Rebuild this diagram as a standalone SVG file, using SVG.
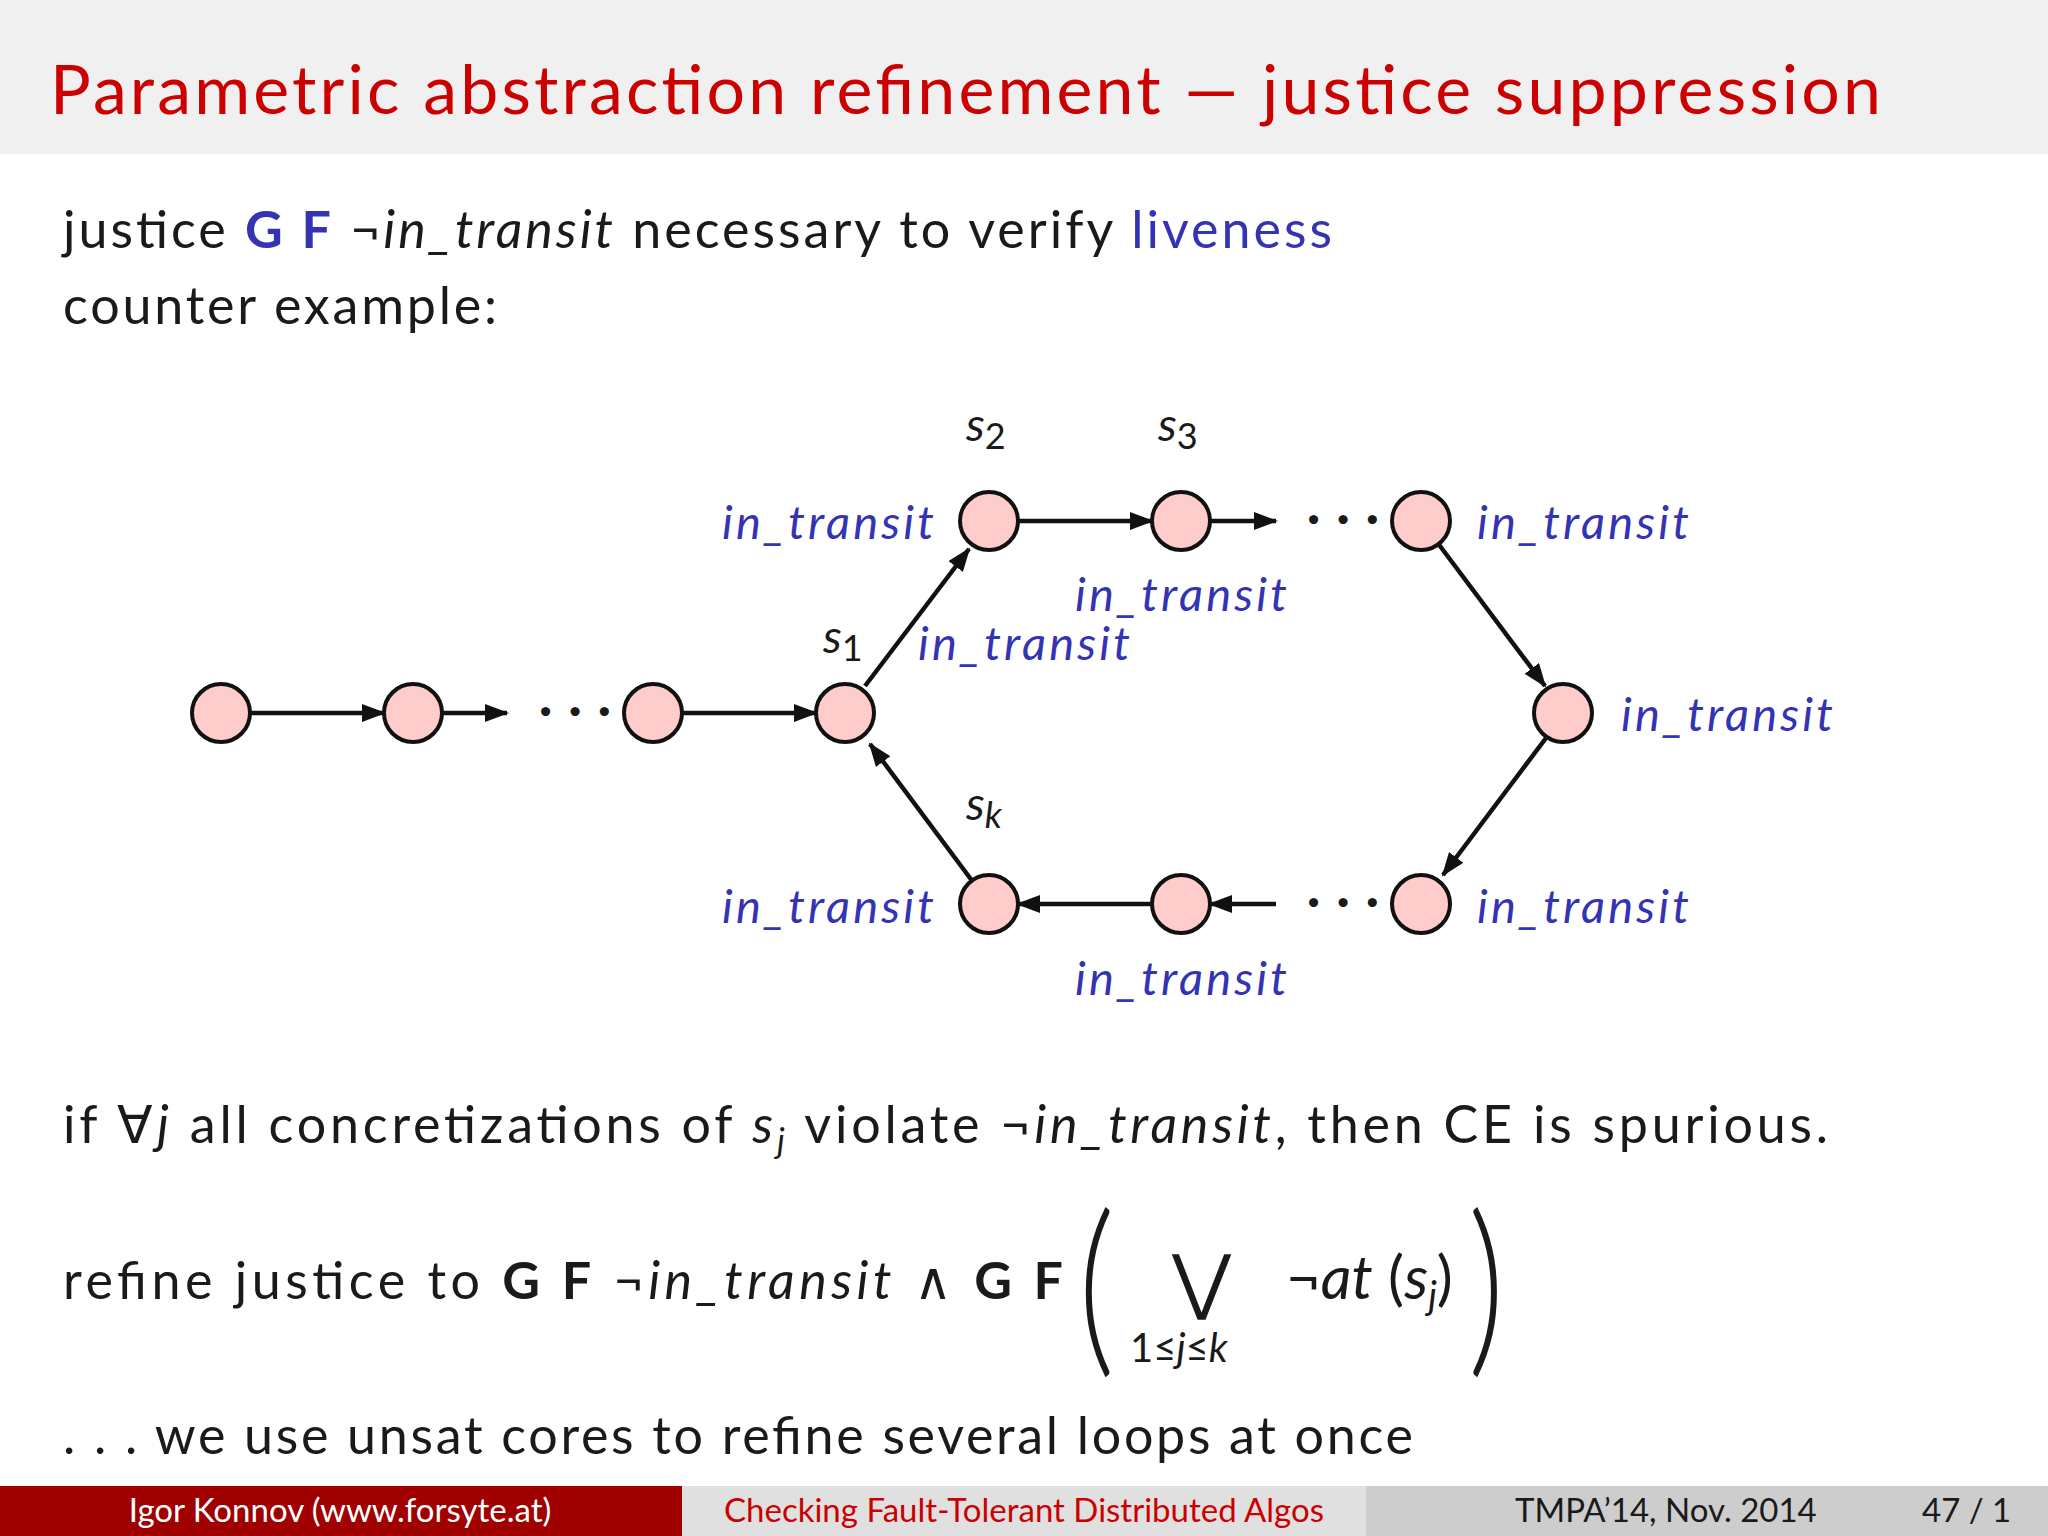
<svg xmlns="http://www.w3.org/2000/svg" width="2048" height="1536" viewBox="0 0 2048 1536">
<style>
text{font-family:"Lato","Liberation Sans",sans-serif;fill:#1a1a1a}
.t{font-size:52px}
.lb{font-size:47px;font-style:italic;fill:#3333b3}
.s{font-size:47px;font-style:italic}
.b{font-weight:bold}
.bl{fill:#3333b3}
.n{fill:#ffcccc;stroke:#111;stroke-width:4}
.e{stroke:#111;stroke-width:4.5;fill:none;marker-end:url(#ah)}
.d{font-size:48px;font-weight:bold}
</style>
<defs><marker id="ah" markerWidth="24" markerHeight="18" refX="22" refY="9" orient="auto" markerUnits="userSpaceOnUse" viewBox="0 0 24 18"><path d="M0,0 L24,9 L0,18 Z" fill="#111"/></marker></defs>
<rect width="2048" height="1536" fill="#fff"/>
<rect width="2048" height="154" fill="#f0f0f0"/>
<text x="50" y="114" font-size="68" style="fill:#cc0000" textLength="1831">Parametric abstraction refinement — justice suppression</text>
<text class="t" x="63" y="248" textLength="1269">justice <tspan class="b bl">G F</tspan> ¬<tspan font-style="italic">in_transit</tspan> necessary to verify <tspan class="bl">liveness</tspan></text>
<text class="t" x="63" y="324" textLength="434">counter example:</text>
<g id="edges">
<line class="e" x1="250" y1="713" x2="384" y2="713"/>
<line class="e" x1="442" y1="713" x2="507" y2="713"/>
<line class="e" x1="682" y1="713" x2="816" y2="713"/>
<line class="e" x1="865" y1="686" x2="969" y2="549"/>
<line class="e" x1="1018" y1="521" x2="1152" y2="521"/>
<line class="e" x1="1210" y1="521" x2="1276" y2="521"/>
<line class="e" x1="1437" y1="542" x2="1545" y2="686"/>
<line class="e" x1="1549" y1="734" x2="1443" y2="875"/>
<line class="e" x1="1276" y1="904" x2="1210" y2="904"/>
<line class="e" x1="1152" y1="904" x2="1018" y2="904"/>
<line class="e" x1="973" y1="882" x2="870" y2="744"/>
</g>
<g id="n1"><circle class="n" cx="221" cy="713" r="29"/></g>
<g id="n2"><circle class="n" cx="413" cy="713" r="29"/></g>
<g id="n3"><circle class="n" cx="653" cy="713" r="29"/></g>
<g id="s1"><circle class="n" cx="845" cy="713" r="29"/><text class="s" x="823" y="653">s<tspan font-size="36" font-style="normal" dy="8">1</tspan></text></g>
<g id="s2"><circle class="n" cx="989" cy="521" r="29"/><text class="s" x="966" y="441">s<tspan font-size="36" font-style="normal" dy="8">2</tspan></text></g>
<g id="s3"><circle class="n" cx="1181" cy="521" r="29"/><text class="s" x="1158" y="441">s<tspan font-size="36" font-style="normal" dy="8">3</tspan></text></g>
<g id="t4"><circle class="n" cx="1421" cy="521" r="29"/></g>
<g id="r"><circle class="n" cx="1563" cy="713" r="29"/></g>
<g id="b4"><circle class="n" cx="1421" cy="904" r="29"/></g>
<g id="b3"><circle class="n" cx="1181" cy="904" r="29"/></g>
<g id="sk"><circle class="n" cx="989" cy="904" r="29"/><text class="s" x="966" y="820">s<tspan font-size="36" dy="8">k</tspan></text></g>
<g id="dots">
<text class="d" x="575" y="726" text-anchor="middle" textLength="72">· · ·</text>
<text class="d" x="1343" y="534" text-anchor="middle" textLength="72">· · ·</text>
<text class="d" x="1343" y="917" text-anchor="middle" textLength="72">· · ·</text>
</g>
<g id="labels">
<text class="lb" x="722" y="539" textLength="212">in_transit</text>
<text class="lb" x="1075" y="611" textLength="212">in_transit</text>
<text class="lb" x="918" y="660" textLength="212">in_transit</text>
<text class="lb" x="1477" y="539" textLength="212">in_transit</text>
<text class="lb" x="1621" y="731" textLength="212">in_transit</text>
<text class="lb" x="1477" y="923" textLength="212">in_transit</text>
<text class="lb" x="722" y="923" textLength="212">in_transit</text>
<text class="lb" x="1075" y="995" textLength="212">in_transit</text>
</g>
<text class="t" x="63" y="1143" textLength="1765">if ∀<tspan font-style="italic">j</tspan> all concretizations of <tspan font-style="italic">s</tspan><tspan font-size="34" font-style="italic" dy="10">j</tspan><tspan dy="-10"> violate ¬</tspan><tspan font-style="italic">in_transit</tspan>, then CE is spurious.</text>
<text class="t" x="63" y="1299" textLength="1000">refine justice to <tspan class="b">G F</tspan> ¬<tspan font-style="italic">in_transit</tspan>  ∧  <tspan class="b">G F</tspan></text>
<text transform="translate(1078,1352) scale(0.75,1)" font-size="190" style="font-weight:300">(</text>
<text x="1172" y="1306" font-size="72" style="font-family:'DejaVu Sans',sans-serif">⋁</text>
<text x="1130" y="1362" font-size="40">1≤<tspan font-style="italic">j</tspan>≤<tspan font-style="italic">k</tspan></text>
<text x="1286" y="1299" font-size="60">¬<tspan font-style="italic">at</tspan> (<tspan font-style="italic">s</tspan><tspan font-size="38" font-style="italic" dy="10">j</tspan><tspan dy="-10">)</tspan></text>
<text transform="translate(1468,1352) scale(0.75,1)" font-size="190" style="font-weight:300">)</text>
<text class="t" x="63" y="1454" textLength="1350">. . . we use unsat cores to refine several loops at once</text>
<rect y="1486" width="682" height="50" fill="#a00000"/>
<rect x="682" y="1486" width="684" height="50" fill="#e0e0e0"/>
<rect x="1366" y="1486" width="682" height="50" fill="#cdcdcd"/>
<text x="340" y="1522" font-size="33" text-anchor="middle" style="fill:#fff">Igor Konnov  (www.forsyte.at)</text>
<text x="1024" y="1522" font-size="33" text-anchor="middle" style="fill:#cc0000">Checking Fault-Tolerant Distributed Algos</text>
<text x="1515" y="1522" font-size="33">TMPA’14, Nov. 2014</text>
<text x="1922" y="1522" font-size="33">47 / 1</text>
</svg>
